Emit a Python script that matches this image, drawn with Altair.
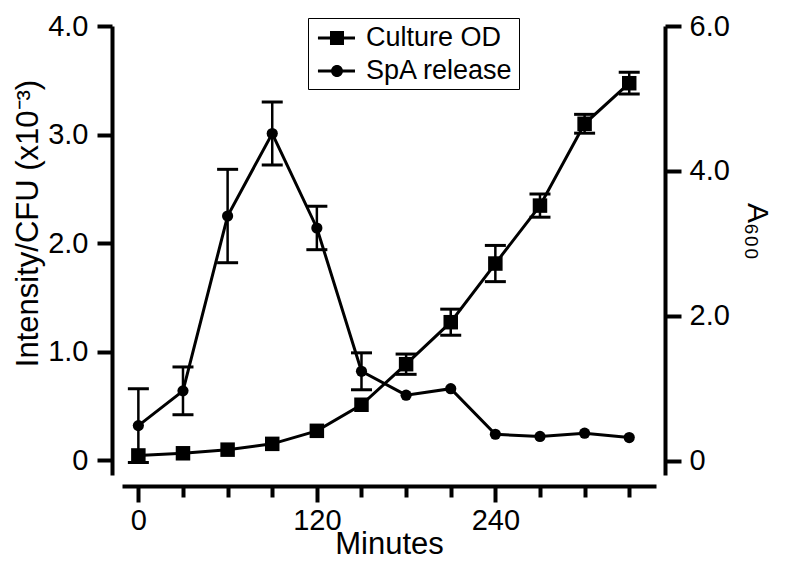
import altair as alt
import pandas as pd

# ---- data ----
minutes = [0, 30, 60, 90, 120, 150, 180, 210, 240, 270, 300, 330]
spa_release = [0.32, 0.64, 2.25, 3.01, 2.14, 0.82, 0.60, 0.66, 0.24, 0.22, 0.25, 0.21]
spa_err = [0.34, 0.22, 0.43, 0.29, 0.20, 0.17, 0, 0, 0, 0, 0, 0]
culture_od = [0.07, 0.10, 0.15, 0.23, 0.41, 0.77, 1.33, 1.91, 2.72, 3.52, 4.65, 5.21]
od_err = [0, 0, 0, 0, 0, 0, 0.14, 0.18, 0.25, 0.16, 0.13, 0.15]
series_names = ["Culture OD", "SpA release"]
x_ticks = [0, 30, 60, 90, 120, 150, 180, 210, 240, 270, 300, 330]
x_labelled = [0, 120, 240]
left_ticks = [0, 1, 2, 3, 4]
right_ticks = [0, 2, 4, 6]
left_title = "Intensity/CFU (x10⁻³)"
right_title = "A₆₀₀"
x_title = "Minutes"

FONT = "Liberation Sans"
LBL = 29
TTL = 31

spa_df = pd.DataFrame({"minutes": minutes, "value": spa_release, "err": spa_err,
                       "series": series_names[1]})
spa_df["lo"] = spa_df["value"] - spa_df["err"]
spa_df["hi"] = spa_df["value"] + spa_df["err"]
od_df = pd.DataFrame({"minutes": minutes, "value": culture_od, "err": od_err,
                      "series": series_names[0]})
od_df["lo"] = od_df["value"] - od_df["err"]
od_df["hi"] = od_df["value"] + od_df["err"]

labelled_test = " || ".join(f"datum.value === {v}" for v in x_labelled)

x_axis = alt.Axis(
    orient="bottom", values=x_ticks, offset=11, grid=False,
    labelExpr=f"({labelled_test}) ? datum.label : ''",
    tickSize={"condition": {"test": labelled_test, "value": 16}, "value": 11},
    tickWidth=4, domainWidth=4, domainColor="black", tickColor="black",
    labelColor="black", labelFont=FONT, labelFontSize=LBL, labelPadding=4,
    labelFlush=False, labelOverlap=False,
    titleFont=FONT, titleFontSize=TTL, titleFontWeight="normal",
    titleColor="black", titleBaseline="alphabetic", titleY=67,
)
xs = alt.Scale(domain=[-11, 348], nice=False, zero=False)

left_axis = alt.Axis(
    orient="left", values=left_ticks, offset=10, grid=False,
    labelExpr="datum.value == 0 ? '0' : format(datum.value, '.1f')",
    tickSize=15, tickWidth=4, domainWidth=4, domainColor="black", tickColor="black",
    labelColor="black", labelFont=FONT, labelFontSize=LBL, labelPadding=9,
    labelFlush=False, labelOverlap=False,
    titleFont=FONT, titleFontSize=TTL,
    titleFontWeight="normal", titleColor="black", titlePadding=3, titleY=197,
)
right_axis = alt.Axis(
    orient="right", values=right_ticks, offset=9, grid=False,
    labelExpr="datum.value == 0 ? '0' : format(datum.value, '.1f')",
    tickSize=16, tickWidth=4, domainWidth=4, domainColor="black", tickColor="black",
    labelColor="black", labelFont=FONT, labelFontSize=LBL, labelPadding=8,
    labelFlush=False, labelOverlap=False,
    titleFont=FONT, titleFontSize=30, titleFontWeight="normal",
    titleColor="black", titlePadding=12, titleY=205,
)

left_scale = alt.Scale(domain=[-0.135, 4.0], nice=False, zero=False)
right_scale = alt.Scale(domain=[-0.2, 6.0], nice=False, zero=False)

# legend glyphs: a short line (thin filled bar) with the marker in the middle
sq_path = "M-0.67,-0.1H1.8V0.1H-0.67ZM0.133,-0.467H1.067V0.467H0.133Z"
ci_path = "M-0.67,-0.1H1.8V0.1H-0.67ZM1.0,0A0.4,0.4,0,1,1,0.2,0A0.4,0.4,0,1,1,1.0,0Z"

legend = alt.Legend(
    orient="none", legendX=186, legendY=-8, title=None,
    padding=5, rowPadding=5, labelOffset=23, labelFont=FONT, labelFontSize=27,
    labelColor="black", labelLimit=400, symbolSize=900,
    symbolFillColor="black", symbolStrokeWidth=0,
    symbolOpacity=1, strokeColor="black",
)
legend_shape_scale = alt.Scale(domain=series_names, range=[sq_path, ci_path])


def group(df, scale, axis, title, shape, size):
    base = alt.Chart(df)
    eb = base.transform_filter("datum.err > 0")
    x = alt.X("minutes:Q", scale=xs, axis=x_axis, title=x_title)
    rule = eb.mark_rule(color="black", strokeWidth=2.5).encode(
        x=x, y=alt.Y("lo:Q", scale=scale, axis=axis, title=title), y2="hi:Q")
    cap_lo = eb.mark_tick(orient="horizontal", size=21, thickness=3, color="black",
                          opacity=1).encode(x=x, y=alt.Y("lo:Q", scale=scale, axis=axis, title=title))
    cap_hi = eb.mark_tick(orient="horizontal", size=21, thickness=3, color="black",
                          opacity=1).encode(x=x, y=alt.Y("hi:Q", scale=scale, axis=axis, title=title))
    line = base.mark_line(color="black", strokeWidth=3).encode(
        x=x, y=alt.Y("value:Q", scale=scale, axis=axis, title=title))
    pts = base.mark_point(filled=True, opacity=1, color="black", strokeWidth=0,
                          shape=shape, size=size).encode(
        x=x, y=alt.Y("value:Q", scale=scale, axis=axis, title=title))
    return [rule, cap_lo, cap_hi, line, pts]


# legend-only layer: no rows drawn, the explicit shape domain gives the legend entries
legend_layer = alt.Chart(spa_df).transform_filter("false").mark_point(
    filled=True, opacity=1, color="black", strokeWidth=0
).encode(
    x=alt.X("minutes:Q", scale=xs, axis=x_axis, title=x_title),
    y=alt.Y("value:Q", scale=left_scale, axis=left_axis, title=left_title),
    shape=alt.Shape("series:N", scale=legend_shape_scale, legend=legend),
)

left = alt.layer(*group(spa_df, left_scale, left_axis, left_title, "circle", 125), legend_layer)
right = alt.layer(*group(od_df, right_scale, right_axis, right_title, "square", 210))

chart = alt.layer(left, right).resolve_scale(y="independent").properties(
    width=534, height=449,
    autosize=alt.AutoSizeParams(type="none"),
    padding={"left": 114, "top": 18, "right": 121, "bottom": 86},
    background="white",
).configure_view(stroke=None)

chart.save("out.html", embed_options={"renderer": "svg", "actions": False})
